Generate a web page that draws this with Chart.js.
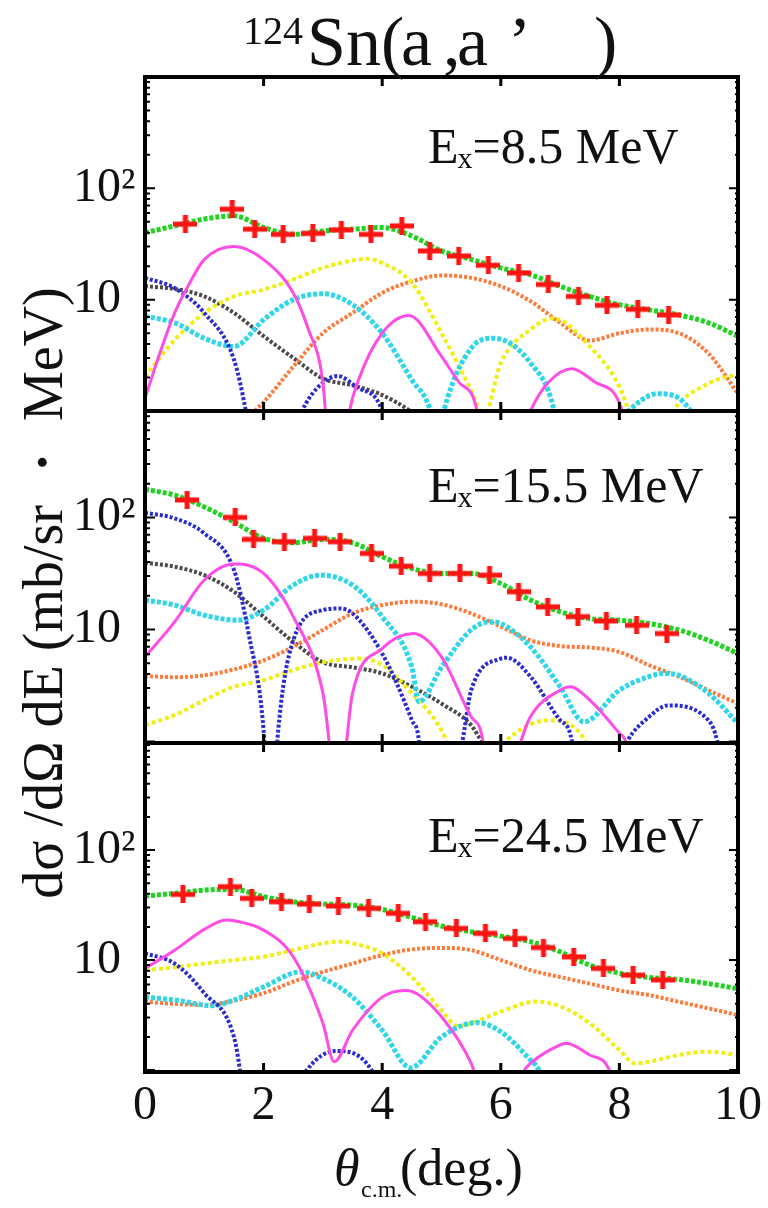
<!DOCTYPE html>
<html>
<head>
<meta charset="utf-8">
<title>124Sn(a,a') angular distributions</title>
<script src="https://cdn.jsdelivr.net/npm/chart.js@4.4.1/dist/chart.umd.min.js"></script>
<style>
  html, body { margin: 0; padding: 0; background: #fff; }
  canvas { display: block; }
</style>
</head>
<body>
<canvas id="chart" width="768" height="1208"></canvas>
<script>
// excitation-energy bins, one panel each (top to bottom)
const excitation = ['8.5', '15.5', '24.5'];

// ---- Ex = 8.5 MeV ----
const exp1Theta = [0.68, 1.47, 1.85, 2.33, 2.83, 3.31, 3.81, 4.33, 4.8, 5.29, 5.79, 6.3, 6.8, 7.31, 7.79, 8.31, 8.83];
const exp1Sigma = [47.7, 65, 43, 38.6, 39.4, 42.4, 38.6, 46, 27.4, 24.7, 20.4, 17.4, 13.7, 10.7, 8.9, 8.2, 7.3];
const total1 = [[0, 40], [0.5, 46], [1, 53], [1.5, 56.6], [2, 44.5], [2.5, 38.6], [3, 41.4], [3.5, 43], [4, 44.5], [4.5, 37.3], [5, 27.4], [5.5, 23], [6, 19.3], [6.5, 16.8], [7, 13.2], [7.5, 10.7], [8, 9], [8.5, 8.1], [9, 7.3], [9.5, 6.2], [10, 4.7]];
const magenta1 = [[0, 1.3], [0.25, 3.3], [0.5, 7.6], [0.75, 14], [1, 23], [1.5, 30], [2, 22.9], [2.5, 11.5], [2.75, 5.5], [3, 1.8], [3.2, 0.1], [3.45, 1.0], [3.6, 1.9], [4, 5], [4.45, 7.2], [5, 3.1], [5.3, 1.8], [5.6, 1.0], [5.8, 0.1], [6.5, 1.0], [6.8, 1.8], [7.2, 2.4], [7.6, 1.8], [8.05, 1.0], [8.3, 0.1]];
const blue1 = [[0, 15.7], [0.5, 12.7], [1, 7.6], [1.5, 2.9], [1.7, 1.0], [2.0, 0.1], [2.65, 1.0], [2.9, 1.6], [3.25, 2.06], [3.6, 1.6], [4.0, 1.0], [4.3, 0.1]];
const cyan1 = [[0, 7.1], [0.5, 6.2], [1, 4.5], [1.5, 3.8], [2, 6.6], [2.5, 10], [3, 11.3], [3.5, 9], [4, 5], [4.5, 1.9], [4.8, 1.05], [4.93, 0.5], [5.05, 1.05], [5.5, 3.66], [5.88, 4.5], [6.5, 2.7], [6.9, 1.0], [7.1, 0.2], [8.15, 1.0], [8.65, 1.43], [9.2, 1.0], [9.5, 0.3]];
const yellow1 = [[0, 2.03], [0.5, 4.35], [1, 7.6], [1.5, 10.7], [2, 12.3], [2.5, 15.2], [3, 19.3], [3.5, 22.5], [3.75, 23.3], [4, 21.4], [4.5, 14.1], [5, 5], [5.5, 1.54], [5.72, 0.9], [6, 2.7], [6.5, 5.4], [6.88, 6.8], [7.5, 3.8], [8, 1.65], [8.15, 1.0], [8.4, 0.3], [8.9, 1.0], [9.5, 1.77], [10, 2.15]];
const orange1 = [[1.2, 0.3], [1.85, 1.0], [2, 1.2], [2.5, 2.5], [3, 5], [3.5, 7.6], [4, 11.5], [4.5, 14.6], [5, 16.5], [5.5, 15.7], [6, 13.2], [6.5, 9.7], [7, 6.2], [7.5, 4.3], [8, 5], [8.5, 5.4], [9, 5], [9.5, 3.3], [10, 1.43]];
const black1 = [[0, 13.2], [0.5, 12.5], [1, 10.7], [1.5, 7.6], [2, 4.7], [2.5, 3], [3, 1.96], [3.5, 1.7], [4, 1.39], [4.47, 1.0], [4.8, 0.7]];

// ---- Ex = 15.5 MeV ----
const exp2Theta = [0.71, 1.52, 1.83, 2.35, 2.86, 3.29, 3.82, 4.32, 4.8, 5.31, 5.81, 6.3, 6.79, 7.3, 7.78, 8.29, 8.8];
const exp2Sigma = [143, 100, 63.7, 60.7, 65, 60.7, 47.7, 36.7, 31.6, 31.6, 30.5, 21.7, 15.9, 13, 11.9, 10.9, 9.2];
const total2 = [[0, 178], [0.5, 158], [1, 124], [1.5, 91], [2, 65], [2.5, 59.4], [3, 63.7], [3.5, 59.4], [4, 44.6], [4.5, 35], [5, 31.6], [5.5, 31.6], [6, 25.7], [6.5, 18.3], [7, 14.4], [7.5, 12.5], [8, 12.1], [8.5, 11.3], [9, 9.9], [9.5, 8], [10, 6.1]];
const magenta2 = [[0, 5.7], [0.5, 11.7], [1, 27.6], [1.5, 38.3], [2, 31.6], [2.5, 13], [3, 2.7], [3.26, 0.3], [3.5, 2.7], [4, 6.76], [4.52, 9.2], [5, 5.7], [5.5, 1.66], [5.7, 1.0], [5.85, 0.1], [6.34, 1.0], [6.5, 1.66], [7, 2.87], [7.17, 3.08], [7.5, 2.34], [8, 1.18], [8.1, 1.0], [8.3, 0.2]];
const blue2 = [[0, 110], [0.5, 98], [1, 72], [1.5, 34], [1.75, 9], [2, 1.26], [2.12, 0.1], [2.23, 1.0], [2.5, 8], [3, 14.9], [3.29, 15.4], [3.5, 13.9], [4, 6.1], [4.5, 1.55], [4.62, 1.0], [4.75, 0.1], [5.35, 1.0], [5.5, 2.87], [6, 5.5], [6.1, 5.6], [6.5, 3.8], [7, 1.55], [7.2, 1.0], [7.35, 0.1], [8.13, 1.0], [8.5, 1.66], [8.82, 2.1], [9.5, 1.55], [9.65, 1.0], [9.8, 0.3]];
const cyan2 = [[0, 18.3], [0.5, 16.5], [1, 13.4], [1.57, 12.1], [2, 14.9], [2.5, 24.9], [2.96, 30.5], [3.5, 24.9], [4, 13], [4.5, 4.6], [4.62, 2.26], [5, 4.6], [5.5, 9.9], [5.81, 11.7], [6, 11.3], [6.5, 7], [7, 3.08], [7.4, 1.5], [8, 2.87], [8.5, 3.8], [8.75, 4.05], [9, 3.9], [9.5, 2.7], [10, 1.45]];
const yellow2 = [[0, 1.4], [0.5, 1.72], [1, 2.34], [1.5, 3.08], [2, 3.53], [2.5, 4.34], [3, 5.1], [3.62, 5.5], [4, 4.8], [4.5, 2.7], [5, 1.26], [5.08, 1.0], [5.3, 0.3], [6.07, 1.0], [6.8, 1.55], [7.43, 1.0], [7.6, 0.5]];
const orange2 = [[0, 3.83], [0.5, 3.75], [1, 3.9], [1.5, 4.4], [2, 5.3], [2.5, 7], [3, 9.9], [3.5, 13.9], [4, 16.5], [4.5, 17.7], [5, 16.8], [5.5, 13.9], [6, 10.6], [6.5, 8], [7, 7.1], [7.5, 6.9], [8, 6.3], [8.5, 4.8], [9, 3.8], [9.5, 2.87], [10, 2.18]];
const black2 = [[0, 39.4], [0.5, 36.3], [1, 30.5], [1.5, 21.7], [2, 13], [2.5, 7.76], [3, 5.1], [3.5, 4.6], [4, 4.05], [4.5, 3.08], [5, 2.18], [5.5, 1.4], [5.68, 1.0], [6, 0.6]];

// ---- Ex = 24.5 MeV ----
const exp3Theta = [0.64, 1.44, 1.8, 2.3, 2.77, 3.26, 3.77, 4.27, 4.73, 5.25, 5.74, 6.24, 6.72, 7.23, 7.73, 8.23, 8.73];
const exp3Sigma = [39.5, 46.4, 36.4, 33.9, 32.3, 31, 29.5, 26.6, 22.3, 19.4, 17.5, 15.7, 13, 10.7, 8.4, 7.3, 6.6];
const total3 = [[0, 38.2], [0.5, 40.4], [1, 43.3], [1.5, 43.9], [2, 37.7], [2.5, 33.9], [3, 32.3], [3.5, 31.6], [4, 28.9], [4.5, 24.4], [5, 20.4], [5.5, 18.1], [6, 16.5], [6.5, 14.7], [7, 11.9], [7.5, 9], [8, 7.6], [8.5, 6.95], [9, 6.67], [9.5, 6.1], [10, 5.5]];
const magenta3 = [[0, 8.4], [0.5, 12.3], [1, 19], [1.37, 23.1], [1.5, 22.8], [2, 18.7], [2.5, 10.7], [3, 2.66], [3.19, 1.19], [3.5, 2.3], [4, 4.6], [4.38, 5.3], [4.5, 5.2], [5, 3.05], [5.5, 1.15], [5.54, 1.0], [5.8, 0.2], [6.4, 1.0], [6.5, 1.15], [7, 1.69], [7.1, 1.75], [7.5, 1.37], [7.83, 1.0], [8.0, 0.4]];
const blue3 = [[0, 11.5], [0.5, 9.3], [1, 5], [1.5, 2.0], [1.6, 1.0], [1.8, 0.1], [2.73, 1.0], [3.22, 1.49], [3.82, 1.0], [4.0, 0.5]];
const cyan3 = [[0, 4.6], [0.5, 4.33], [1.14, 3.85], [1.5, 4.33], [2, 5.7], [2.63, 7.8], [3, 6.8], [3.5, 4.6], [4, 2.3], [4.48, 1.05], [5, 2], [5.6, 2.7], [6, 2.23], [6.5, 1.23], [6.64, 1.0], [6.8, 0.5]];
const yellow3 = [[0, 8.1], [0.5, 8.6], [1, 9.3], [1.5, 10], [2, 10.7], [2.5, 12.3], [3, 14.2], [3.29, 14.7], [3.5, 14.2], [4, 11.5], [4.5, 7], [5, 3.5], [5.28, 2.5], [5.5, 2.66], [6, 3.4], [6.6, 4.2], [7, 3.8], [7.5, 2.66], [8, 1.52], [8.26, 1.15], [8.5, 1.19], [9, 1.37], [9.5, 1.47], [10, 1.37]];
const orange3 = [[0, 4.18], [0.5, 4], [1, 3.9], [1.5, 4.27], [2, 5], [2.5, 6.35], [3, 7.8], [3.5, 9.3], [4, 11.1], [4.5, 12.5], [5, 12.9], [5.5, 12.3], [6, 10], [6.5, 8.1], [7, 7], [7.5, 6.1], [8, 5.3], [8.5, 4.8], [9, 4.18], [9.5, 3.64], [10, 3.16]];

// axis ranges of the three log panels
const yMin = [1, 0.97, 0.96];
const yMax = [1000, 890, 940];
const yTickLabels = { 10: '10', 100: '10\u00B2' };
const thetaTicks = [2, 4, 6, 8];

const serif = '"Liberation Serif", "Times New Roman", serif';

const styles = {
  total:   { color: '#1fd41f', width: 5, dash: [4, 2] },
  magenta: { color: '#ff4ce6', width: 3, dash: [] },
  blue:    { color: '#2b2bd4', width: 4, dash: [3, 2] },
  cyan:    { color: '#2ed6ea', width: 5, dash: [4, 2] },
  yellow:  { color: '#f2ee12', width: 4, dash: [4, 3] },
  orange:  { color: '#ff7a3a', width: 4, dash: [3, 2] },
  black:   { color: '#4a4a4a', width: 4, dash: [3, 2] }
};

// red "+" marker, wider than tall
const crossMark = (() => {
  const c = document.createElement('canvas');
  c.width = 24; c.height = 18;
  const g = c.getContext('2d');
  g.fillStyle = '#ff1414';
  g.fillRect(0, 6.5, 24, 5);
  g.fillRect(9.5, 0, 5, 18);
  return c;
})();

function curve(points, style, axis) {
  return {
    data: points,
    yAxisID: axis,
    borderColor: style.color,
    borderWidth: style.width,
    borderDash: style.dash,
    pointRadius: 0,
    fill: false,
    cubicInterpolationMode: 'monotone'
  };
}

function measured(theta, sigma, axis) {
  return {
    data: theta.map((t, i) => [t, sigma[i]]),
    yAxisID: axis,
    showLine: false,
    pointStyle: crossMark,
    pointRadius: 10,
    borderColor: '#ff1414',
    backgroundColor: '#ff1414'
  };
}

const datasets = [
  measured(exp1Theta, exp1Sigma, 'y1'),
  curve(total1, styles.total, 'y1'),
  curve(magenta1, styles.magenta, 'y1'),
  curve(blue1, styles.blue, 'y1'),
  curve(cyan1, styles.cyan, 'y1'),
  curve(yellow1, styles.yellow, 'y1'),
  curve(orange1, styles.orange, 'y1'),
  curve(black1, styles.black, 'y1'),

  measured(exp2Theta, exp2Sigma, 'y2'),
  curve(total2, styles.total, 'y2'),
  curve(magenta2, styles.magenta, 'y2'),
  curve(blue2, styles.blue, 'y2'),
  curve(cyan2, styles.cyan, 'y2'),
  curve(yellow2, styles.yellow, 'y2'),
  curve(orange2, styles.orange, 'y2'),
  curve(black2, styles.black, 'y2'),

  measured(exp3Theta, exp3Sigma, 'y3'),
  curve(total3, styles.total, 'y3'),
  curve(magenta3, styles.magenta, 'y3'),
  curve(blue3, styles.blue, 'y3'),
  curve(cyan3, styles.cyan, 'y3'),
  curve(yellow3, styles.yellow, 'y3'),
  curve(orange3, styles.orange, 'y3')
];

function panelAxis(i) {
  return {
    type: 'logarithmic',
    position: 'left',
    stack: 'panels',
    stackWeight: [334, 332, 329][i],
    weight: 3 - i,            // keeps the first panel on top of the stack
    min: yMin[i],
    max: yMax[i],
    grid: { display: false, drawTicks: false },
    border: { display: false },
    ticks: {
      autoSkip: false,
      crossAlign: 'far',
      color: '#111',
      font: { family: serif, size: 48 },
      callback: v => yTickLabels[Math.round(v)] && Math.abs(v - Math.round(v)) < 1e-6 ? yTickLabels[Math.round(v)] : ''
    },
    afterFit: s => { s.width = 72; }
  };
}

// clip each panel's curves to its own box, then draw frames, inward ticks and text
const panelFrames = {
  id: 'panelFrames',
  beforeDatasetDraw(chart, args) {
    const y = args.meta.yScale;
    const a = chart.chartArea;
    const ctx = chart.ctx;
    ctx.save();
    ctx.beginPath();
    ctx.rect(a.left, y.top, a.right - a.left, y.bottom - y.top);
    ctx.clip();
  },
  afterDatasetDraw(chart) {
    chart.ctx.restore();
  },
  afterDatasetsDraw(chart) {
    const ctx = chart.ctx;
    const a = chart.chartArea;
    const xs = chart.scales.x;
    ctx.save();
    ctx.strokeStyle = '#000';
    ['y1', 'y2', 'y3'].forEach(id => {
      const y = chart.scales[id];
      // theta ticks on top and bottom edges
      ctx.lineWidth = 3;
      thetaTicks.forEach(t => {
        const px = xs.getPixelForValue(t);
        ctx.beginPath();
        ctx.moveTo(px, y.top); ctx.lineTo(px, y.top + 9);
        ctx.moveTo(px, y.bottom); ctx.lineTo(px, y.bottom - 9);
        ctx.stroke();
      });
      // log ticks on both sides
      ctx.lineWidth = 2;
      [1, 10, 100].forEach(dec => {
        for (let m = 1; m <= 9; m++) {
          const v = m * dec;
          if (v < y.min || v > y.max) continue;
          const py = y.getPixelForValue(v);
          const len = m === 1 ? 10 : 5;
          ctx.beginPath();
          ctx.moveTo(a.left, py); ctx.lineTo(a.left + len, py);
          ctx.moveTo(a.right, py); ctx.lineTo(a.right - (m === 1 ? 9 : 3), py);
          ctx.stroke();
        }
      });
      ctx.lineWidth = 4;
      ctx.strokeRect(a.left, y.top, a.right - a.left, y.bottom - y.top);
    });
    ctx.restore();
  },
  afterDraw(chart) {
    const ctx = chart.ctx;
    ctx.save();
    ctx.fillStyle = '#111';
    ctx.textAlign = 'left';
    ctx.textBaseline = 'alphabetic';

    // title
    ctx.font = '40px ' + serif;
    ctx.fillText('124', 243, 44);
    ctx.font = '70px ' + serif;
    [['Sn(', 307], ['a', 401], [',', 443], ['a', 457], ['\u2019', 508], [')', 594]]
      .forEach(([t, x]) => ctx.fillText(t, x, 65));

    // excitation energy of each panel
    const offsets = [86, 91, 109];
    ['y1', 'y2', 'y3'].forEach((id, i) => {
      const base = chart.scales[id].top + offsets[i];
      let x = 428;
      ctx.font = '50px ' + serif;
      ctx.fillText('E', x, base);
      x += ctx.measureText('E').width - 1;
      ctx.font = '30px ' + serif;
      ctx.fillText('x', x, base + 5);
      x += ctx.measureText('x').width;
      ctx.font = '50px ' + serif;
      ctx.fillText('=' + excitation[i] + ' MeV', x, base);
    });

    // x axis title
    ctx.font = 'italic 52px ' + serif;
    ctx.fillText('\u03B8', 334, 1185);
    ctx.font = '24px ' + serif;
    ctx.fillText('c.m.', 361, 1197);
    ctx.font = '52px ' + serif;
    ctx.fillText('(deg.)', 400, 1185);

    // y axis title, rotated
    ctx.translate(47, 593);
    ctx.rotate(-Math.PI / 2);
    ctx.textAlign = 'center';
    ctx.font = '56px ' + serif;
    ctx.fillText('d\u03C3 /d\u03A9 dE (mb/sr \u30FB MeV)', 0, 15);
    ctx.restore();
  }
};

new Chart(document.getElementById('chart'), {
  type: 'line',
  data: { datasets },
  options: {
    responsive: false,
    animation: false,
    layout: { padding: { top: 77, left: 73, right: 28, bottom: 0 } },
    plugins: { legend: { display: false }, tooltip: { enabled: false } },
    scales: {
      x: {
        type: 'linear',
        min: 0,
        max: 10,
        grid: { display: false, drawTicks: false },
        border: { display: false },
        ticks: { stepSize: 2, padding: 6, maxRotation: 0, color: '#111', font: { family: serif, size: 48 } },
        afterFit: s => { s.height = 136; }
      },
      y1: panelAxis(0),
      y2: panelAxis(1),
      y3: panelAxis(2)
    }
  },
  plugins: [panelFrames]
});
</script>
</body>
</html>
